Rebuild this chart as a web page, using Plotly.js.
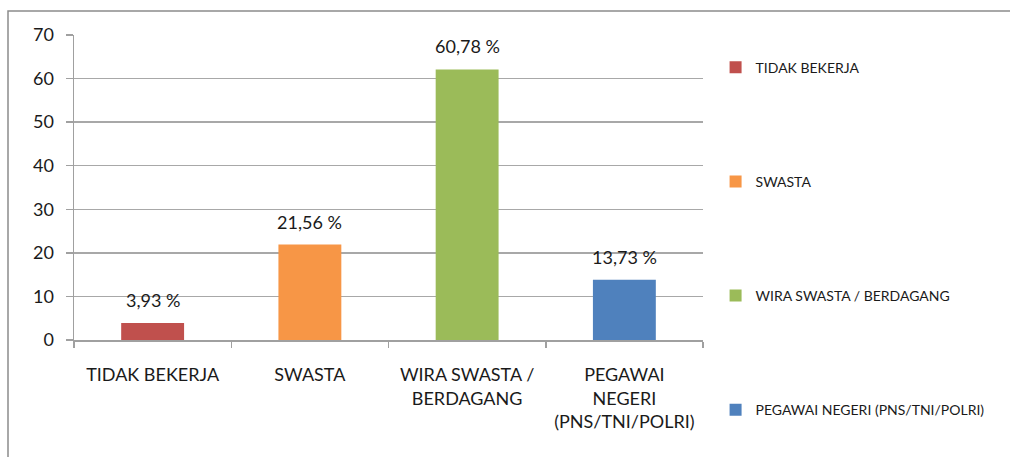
<!DOCTYPE html>
<html>
<head>
<meta charset="utf-8">
<script src="https://cdn.plot.ly/plotly-3.0.1.min.js"></script>
<style>
html,body{margin:0;padding:0;background:#fff;}
#chart{width:1010px;height:457px;}
</style>
</head>
<body>
<div id="chart"></div>
<script>
const categories = ["TIDAK BEKERJA", "SWASTA", "WIRA SWASTA / BERDAGANG", "PEGAWAI NEGERI (PNS/TNI/POLRI)"];
const tickLabels = ["TIDAK BEKERJA", "SWASTA", "WIRA SWASTA /<br>BERDAGANG", "PEGAWAI<br>NEGERI<br>(PNS/TNI/POLRI)"];
const values = [3.93, 21.9, 62.1, 13.8];
const valueLabels = ["3,93 %", "21,56 %", "60,78 %", "13,73 %"];
const colors = ["#C0504D", "#F79646", "#9BBB59", "#4F81BD"];
const yTicks = [0, 10, 20, 30, 40, 50, 60, 70];

const FONT = "Lato, 'Open Sans', sans-serif";
const TXT = "#1a1a1a";

const traces = categories.map((c, i) => ({
  type: "bar",
  name: c,
  x: [c],
  y: [values[i]],
  width: 0.4,
  marker: {color: colors[i]},
  legendgroup: "g" + i,
  hoverinfo: "skip"
}));

const annotations = categories.map((c, i) => ({
  x: c, y: values[i], xref: "x", yref: "y",
  text: valueLabels[i], showarrow: false,
  yanchor: "middle", yshift: 23,
  font: {family: FONT, size: 18, color: TXT}
}));

const layout = {
  width: 1010, height: 457,
  margin: {l: 74, r: 307, t: 35, b: 117, autoexpand: false},
  paper_bgcolor: "#fff", plot_bgcolor: "#fff",
  barmode: "overlay",
  showlegend: true,
  font: {family: FONT, color: TXT},
  xaxis: {
    type: "category",
    tickvals: categories, ticktext: tickLabels,
    tickson: "boundaries",
    ticks: "outside", ticklen: 6, tickcolor: "#a0a0a0", tickwidth: 1.5,
    showline: true, linecolor: "#a0a0a0", linewidth: 1.5,
    showgrid: false, zeroline: false,
    tickfont: {family: FONT, size: 18, color: TXT},
    ticklabelstandoff: 18,
    fixedrange: true
  },
  yaxis: {
    range: [0, 70],
    tickvals: yTicks,
    ticks: "outside", ticklen: 7, tickcolor: "#a0a0a0", tickwidth: 1.5,
    showline: true, linecolor: "#a0a0a0", linewidth: 1.5,
    showgrid: true, gridcolor: "#a8a8a8", gridwidth: 1.5,
    zeroline: false,
    tickfont: {family: FONT, size: 18, color: TXT},
    ticklabelstandoff: 8,
    fixedrange: true
  },
  legend: {
    x: 1.02, xanchor: "left",
    y: 0.9456, yanchor: "top",
    maxheight: 420,
    font: {family: FONT, size: 14, color: TXT},
    tracegroupgap: 93,
    bgcolor: "rgba(0,0,0,0)",
    borderwidth: 0
  },
  annotations: annotations,
  shapes: [{
    type: "rect", xref: "paper", yref: "paper",
    x0: (8 - 74) / 629, x1: 1.6,
    y0: -0.6, y1: (340 - 11) / 305,
    line: {color: "#8c8c8c", width: 1.5},
    layer: "below"
  }]
};

Plotly.newPlot("chart", traces, layout, {displayModeBar: false, staticPlot: true});
</script>
</body>
</html>
